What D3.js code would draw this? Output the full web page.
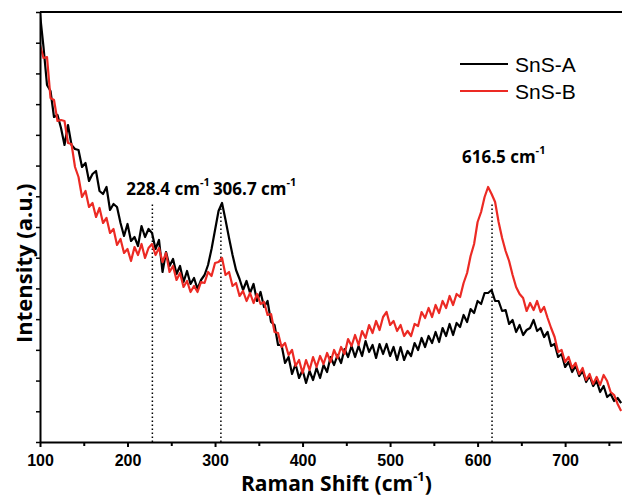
<!DOCTYPE html>
<html>
<head>
<meta charset="utf-8">
<script src="https://cdn.jsdelivr.net/npm/d3@7"></script>
<style>
  body { margin: 0; background: #fff; }
  svg { display: block; }
</style>
</head>
<body>
<script>
// Raman shift (cm-1), sampled every 4 cm-1
var shift = [100,104,108,112,116,120,124,128,132,136,140,144,148,152,156,160,164,168,172,176,
  180,184,188,192,196,200,204,208,212,216,220,224,228,232,236,240,244,248,252,256,
  260,264,268,272,276,280,284,288,292,296,300,304,308,312,316,320,324,328,332,336,
  340,344,348,352,356,360,364,368,372,376,380,384,388,392,396,400,404,408,412,416,
  420,424,428,432,436,440,444,448,452,456,460,464,468,472,476,480,484,488,492,496,
  500,504,508,512,516,520,524,528,532,536,540,544,548,552,556,560,564,568,572,576,
  580,584,588,592,596,600,604,608,612,616,620,624,628,632,636,640,644,648,652,656,
  660,664,668,672,676,680,684,688,692,696,700,704,708,712,716,720,724,728,732,736,
  740,744,748,752,756,760,764];

// intensity (a.u.)
var snsA = [428,395,357,351,325,327,314,297,317,297,293,292,275,279,261,268,271,251,248,255,
  232,238,235,219,206,218,201,205,196,216,205,213,209,193,202,170,190,176,183,168,
  176,160,171,158,164,153,162,167,177,193,212,231,239,222,204,187,172,163,152,161,
  149,158,141,150,135,141,120,117,97,97,79,85,68,78,64,72,59,71,62,74,
  64,77,70,85,77,87,79,93,85,96,85,96,86,101,90,97,84,98,88,98,
  86,95,82,95,82,91,86,99,92,104,95,106,99,110,100,114,106,118,107,119,
  115,127,120,133,129,141,138,149,149,152,141,141,131,132,118,122,110,117,107,112,
  114,122,111,114,105,110,96,98,85,88,75,80,70,76,66,71,60,66,56,61,
  50,56,45,48,41,44,39];

var snsB = [397,384,385,344,342,321,322,321,299,298,275,265,245,251,235,239,225,234,219,224,
  209,213,197,203,189,193,181,195,187,198,184,194,198,187,194,180,189,170,176,162,
  169,155,161,150,156,150,160,159,170,166,179,180,184,167,170,156,159,146,151,141,
  149,139,148,138,140,127,128,110,109,95,99,87,92,76,82,69,82,72,85,75,
  86,78,89,80,92,84,95,88,103,96,107,97,111,104,117,109,121,112,125,130,
  117,121,111,117,106,111,106,118,116,130,124,134,125,137,129,141,134,146,137,148,
  145,159,169,186,198,220,230,245,255,248,240,220,204,191,181,167,155,148,144,131,
  139,132,141,130,135,124,114,105,90,92,80,85,74,79,68,74,62,68,58,65,
  57,67,61,50,47,38,31];

var seriesNames = ["SnS-A", "SnS-B"];
var seriesColors = ["#000000", "#ec2a24"];

var majorTicks = [100, 200, 300, 400, 500, 600, 700];
var minorTicks = [150, 250, 350, 450, 550, 650, 750];

var peakPos = [228.4, 306.7, 616.5];
var peakText = ["228.4 cm", "306.7 cm", "616.5 cm"];

var width = 622, height = 498;

var svg = d3.select("body").append("svg")
  .attr("width", width)
  .attr("height", height)
  .style("font-family", "'Open Sans', sans-serif");

var x = d3.scaleLinear().domain([100, 765]).range([40, 622]);
var y = d3.scaleLinear().domain([0, 430]).range([442, 12]);

svg.append("clipPath").attr("id", "plot")
  .append("rect")
  .attr("x", x(100)).attr("y", y(430))
  .attr("width", x(765) - x(100)).attr("height", y(0) - y(430));

// dotted peak markers
var markTop = 238;
svg.selectAll(".peak-line")
  .data(peakPos)
  .enter().append("line")
  .attr("class", "peak-line")
  .attr("x1", function(d) { return x(d); })
  .attr("x2", function(d) { return x(d); })
  .attr("y1", y(0))
  .attr("y2", y(markTop))
  .attr("stroke", "#000")
  .attr("stroke-width", 1.5)
  .attr("stroke-dasharray", "1.5,2.5");

// spectra
var line = d3.line()
  .x(function(d, i) { return x(shift[i]); })
  .y(function(d) { return y(d); });

var g = svg.append("g").attr("clip-path", "url(#plot)");
[snsA, snsB].forEach(function(s, i) {
  g.append("path")
    .attr("d", line(s))
    .attr("fill", "none")
    .attr("stroke", seriesColors[i])
    .attr("stroke-width", 2.2)
    .attr("stroke-linejoin", "round");
});

// axes
var xAxis = svg.append("g")
  .attr("transform", "translate(0," + y(0) + ")")
  .call(d3.axisBottom(x).tickValues(majorTicks).tickSize(5).tickSizeOuter(0).tickPadding(8)
    .tickFormat(d3.format("d")));
xAxis.select(".domain").attr("stroke-width", 2);
xAxis.selectAll(".tick line").attr("stroke-width", 2);
xAxis.selectAll("text")
  .style("font-family", "'Liberation Sans', Arial, sans-serif")
  .style("font-weight", "bold")
  .style("font-size", "16px");

var xMinor = svg.append("g")
  .attr("transform", "translate(0," + y(0) + ")")
  .call(d3.axisBottom(x).tickValues(minorTicks).tickSize(4).tickFormat(""));
xMinor.select(".domain").remove();
xMinor.selectAll(".tick line").attr("stroke-width", 2);

var yAxis = svg.append("g")
  .attr("transform", "translate(" + x(100) + ",0)")
  .call(d3.axisLeft(y).tickValues(d3.range(0, 15).map(function(i) { return i * 430 / 14; }))
    .tickSize(4).tickSizeOuter(0).tickFormat(""));
yAxis.select(".domain").attr("stroke-width", 2);
yAxis.selectAll(".tick line").attr("stroke-width", 1.5);

// top frame
svg.append("line")
  .attr("x1", x(100)).attr("x2", x(765))
  .attr("y1", y(430)).attr("y2", y(430))
  .attr("stroke", "#000").attr("stroke-width", 2);

// axis titles
var xt = svg.append("text")
  .attr("x", 241).attr("y", 491)
  .style("font-weight", "bold").style("font-size", "21px");
xt.append("tspan").text("Raman Shift (cm");
xt.append("tspan").attr("dy", -10).style("font-size", "13px").text("-1");
xt.append("tspan").attr("dy", 10).text(")");

svg.append("text")
  .attr("transform", "translate(32,343) rotate(-90)")
  .style("font-weight", "bold").style("font-size", "22px")
  .text("Intensity (a.u.)");

// peak labels
var labelDx = [-26, -8, -30];
var labelY = [195, 195, 163];
peakPos.forEach(function(p, i) {
  var t = svg.append("text")
    .attr("x", x(p) + labelDx[i]).attr("y", labelY[i])
    .style("font-weight", "bold").style("font-size", "17px");
  t.append("tspan").text(peakText[i]);
  t.append("tspan").attr("dy", -9).style("font-size", "11px").text("-1");
});

// legend
var legend = svg.append("g")
  .style("font-family", "'Liberation Sans', Arial, sans-serif");
seriesNames.forEach(function(name, i) {
  var ly = 64 + i * 27;
  legend.append("line")
    .attr("x1", 460).attr("x2", 508)
    .attr("y1", ly).attr("y2", ly)
    .attr("stroke", seriesColors[i]).attr("stroke-width", 2);
  legend.append("text")
    .attr("x", 515).attr("y", ly + 8)
    .style("font-size", "21px")
    .text(name);
});
</script>
</body>
</html>
